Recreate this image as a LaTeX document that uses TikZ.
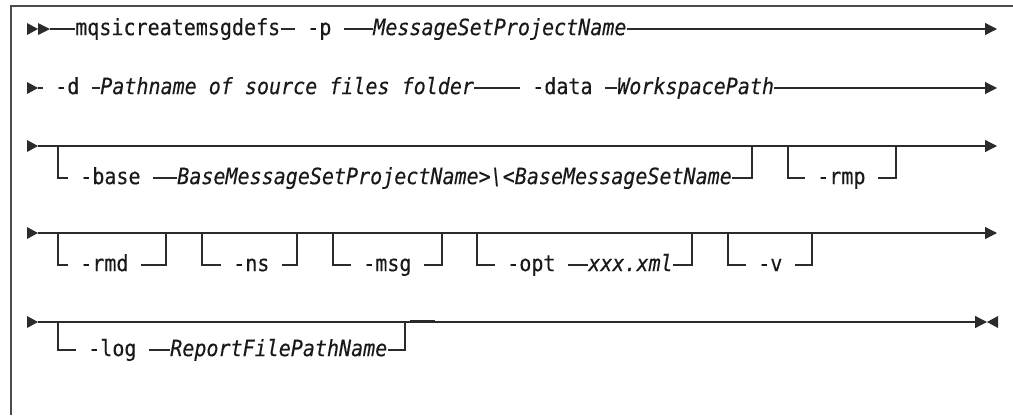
\documentclass[tikz,border=0pt]{standalone}
\usepackage{fontspec}
\usepackage{xcolor}
\usepackage{tikz}
\usetikzlibrary{arrows.meta}
\newfontfamily\railfont[FakeStretch=0.89, FakeBold=0.3]{DejaVu Sans Mono}
\newcommand\railsize{\railfont\fontsize{16}{19}\selectfont}
\definecolor{railgray}{HTML}{2B2B2B}
\tikzset{
	rail/line/.style={draw=railgray, line width=0.9pt},
	rail/end/.style={-{Triangle[length=8.5pt,width=8.5pt]}},
	rail/cmd/.style={inner xsep=0pt, inner ysep=1pt, anchor=mid west, text=black!90,
		font=\railsize},
	rail/kw/.style={rail/cmd, inner xsep=0.3cm},
	rail/var/.style={rail/cmd, font=\railsize\itshape}
}

\begin{document}
\begin{tikzpicture}[x=0.025cm, y=-0.025cm]
\railsize
\useasboundingbox (0,0) rectangle (1013,415);

\draw[railgray!85, line width=1.4pt] (1013,6) -- (11,6) -- (11,415);

\foreach \y in {29,88,146,233,322}
\fill[railgray] (27,\y-6) -- (38,\y) -- (27,\y+6) -- cycle;
\fill[railgray] (38,23) -- (50,29) -- (38,35) -- cycle;

% line 1
\coordinate (s1) at (50,29);
\coordinate (e1) at (997,29);
\node[rail/cmd] (cmd) at (75,29) {mqsicreatemsgdefs};
\node[rail/kw] (p) at (295,29) {-p};
\node[rail/var] (pname) at (373,29) {MessageSetProjectName};
\draw[rail/line] (s1) -- (cmd.mid west);
\draw[rail/line] (cmd.mid east) -- (p.mid west);
\draw[rail/line] (p.mid east) -- (pname.mid west);
\draw[rail/line, rail/end] (pname.mid east) -- (e1);

% line 2
\coordinate (s2) at (38,88);
\coordinate (e2) at (997,88);
\node[rail/kw] (d) at (43,88) {-d};
\node[rail/var] (src) at (100,88) {Pathname of source files folder};
\node[rail/kw] (data) at (520,88) {-data};
\node[rail/var] (ws) at (617,88) {WorkspacePath};
\draw[rail/line] (s2) -- (d.mid west);
\draw[rail/line] (d.mid east) -- (src.mid west);
\draw[rail/line] (src.mid east) -- (data.mid west);
\draw[rail/line] (data.mid east) -- (ws.mid west);
\draw[rail/line, rail/end] (ws.mid east) -- (e2);

% line 3
\coordinate (s3) at (38,146);
\coordinate (e3) at (997,146);
\draw[rail/line, rail/end] (s3) -- (e3);
\coordinate (baseL) at (58,146);
\coordinate (baseR) at (752,146);
\coordinate (rmpL) at (788,146);
\coordinate (rmpR) at (896,146);
\node[rail/kw] (base) at (68,178) {-base};
\node[rail/var] (basename) at (177,178) {BaseMessageSetProjectName>\textbackslash<BaseMessageSetName};
\node[rail/kw] (rmp) at (805,178) {-rmp};
\draw[rail/line] (baseL) |- (base.mid west);
\draw[rail/line] (base.mid east) -- (basename.mid west);
\draw[rail/line] (basename.mid east) -| (baseR);
\draw[rail/line] (rmpL) |- (rmp.mid west);
\draw[rail/line] (rmp.mid east) -| (rmpR);

% line 4
\coordinate (s4) at (38,233);
\coordinate (e4) at (997,233);
\draw[rail/line, rail/end] (s4) -- (e4);
\foreach \l/\x/\r/\k in {58/68/166/rmd, 202/221/297/ns, 333/351/442/msg, 728/746/812/v}{
	\coordinate (\k L) at (\l,233);
	\coordinate (\k R) at (\r,233);
	\node[rail/kw] (\k) at (\x,265) {-\k};
	\draw[rail/line] (\k L) |- (\k.mid west);
	\draw[rail/line] (\k.mid east) -| (\k R);
}
\coordinate (optL) at (477,233);
\coordinate (optR) at (692,233);
\node[rail/kw] (opt) at (495,265) {-opt};
\node[rail/var] (optfile) at (588,265) {xxx.xml};
\draw[rail/line] (optL) |- (opt.mid west);
\draw[rail/line] (opt.mid east) -- (optfile.mid west);
\draw[rail/line] (optfile.mid east) -| (optR);

% line 5
\coordinate (s5) at (38,322);
\coordinate (e5) at (987,322);
\draw[rail/line, rail/end] (s5) -- (e5);
\fill[railgray] (e5) -- (998,316) -- (998,328) -- cycle;
\coordinate (logL) at (58,322);
\coordinate (logR) at (405,322);
\node[rail/kw] (log) at (76,350) {-log};
\node[rail/var] (logfile) at (170,350) {ReportFilePathName};
\draw[rail/line] (logL) |- (log.mid west);
\draw[rail/line] (log.mid east) -- (logfile.mid west);
\draw[rail/line] (logfile.mid east) -| (logR);
\draw[railgray, line width=1.3pt] (410,321) -- (435,321);

\end{tikzpicture}
\end{document}
